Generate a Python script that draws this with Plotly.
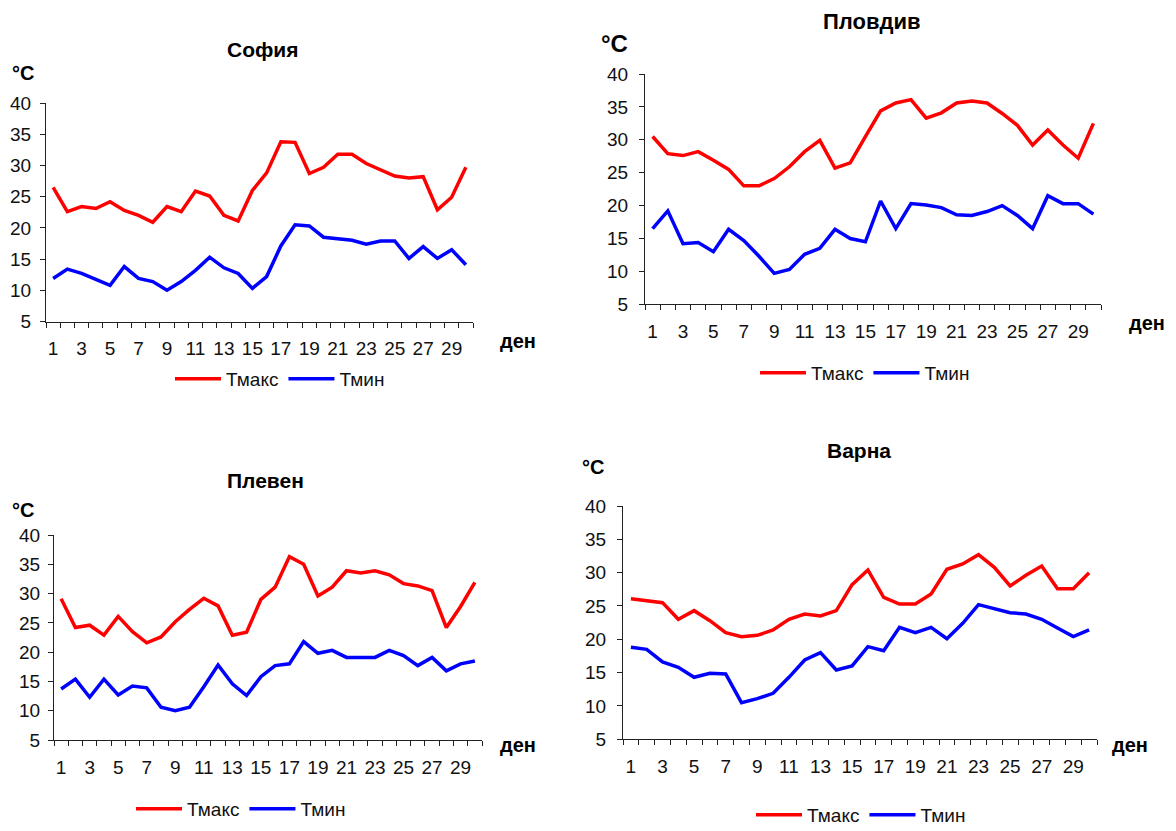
import plotly.graph_objects as go

days = list(range(1, 31))
x_ticks = list(range(1, 30, 2))
y_ticks = [5, 10, 15, 20, 25, 30, 35, 40]

sofia_max = [26.5, 22.6, 23.4, 23.1, 24.2, 22.8, 22.0, 20.9, 23.4, 22.6, 25.9, 25.1, 22.0, 21.1, 26.0,
             28.8, 33.8, 33.7, 28.7, 29.7, 31.8, 31.8, 30.3, 29.3, 28.3, 28.0, 28.2, 22.9, 24.9, 29.7]
sofia_min = [11.9, 13.4, 12.7, 11.7, 10.8, 13.8, 11.9, 11.4, 10.0, 11.4, 13.2, 15.3, 13.6, 12.7, 10.3,
             12.2, 17.1, 20.5, 20.3, 18.5, 18.2, 18.0, 17.4, 17.9, 17.9, 15.1, 17.0, 15.1, 16.5, 14.1]

plovdiv_max = [30.5, 27.9, 27.6, 28.2, 26.9, 25.5, 23.0, 23.0, 24.1, 25.9, 28.2, 29.9, 25.7, 26.5, 30.5,
               34.4, 35.6, 36.1, 33.3, 34.1, 35.6, 35.9, 35.6, 34.0, 32.2, 29.2, 31.5, 29.2, 27.2, 32.5]
plovdiv_min = [16.5, 19.2, 14.2, 14.4, 13.0, 16.4, 14.7, 12.3, 9.7, 10.3, 12.6, 13.5, 16.4, 15.0, 14.5,
               20.7, 16.5, 20.3, 20.1, 19.7, 18.6, 18.5, 19.1, 20.0, 18.5, 16.5, 21.5, 20.3, 20.3, 18.7]

pleven_max = [29.1, 24.2, 24.6, 22.9, 26.1, 23.5, 21.6, 22.6, 25.2, 27.3, 29.2, 27.9, 22.9, 23.4, 29.0,
              31.1, 36.3, 35.0, 29.6, 31.1, 33.9, 33.5, 33.9, 33.2, 31.7, 31.3, 30.5, 24.2, 27.8, 31.9]
pleven_min = [13.7, 15.4, 12.3, 15.4, 12.7, 14.2, 13.9, 10.6, 10.0, 10.6, 14.1, 17.8, 14.6, 12.6, 15.8,
              17.7, 18.0, 21.8, 19.8, 20.3, 19.1, 19.1, 19.1, 20.3, 19.4, 17.7, 19.1, 16.8, 18.0, 18.5]

varna_max = [26.1, 25.8, 25.5, 23.0, 24.3, 22.8, 21.0, 20.4, 20.6, 21.4, 23.0, 23.8, 23.5, 24.3, 28.2,
             30.4, 26.3, 25.3, 25.3, 26.8, 30.5, 31.3, 32.7, 30.8, 28.0, 29.6, 31.0, 27.6, 27.6, 30.0]
varna_min = [18.8, 18.5, 16.6, 15.8, 14.3, 14.9, 14.8, 10.5, 11.1, 11.9, 14.3, 16.9, 18.0, 15.4, 16.0,
             18.9, 18.3, 21.8, 21.0, 21.8, 20.1, 22.4, 25.2, 24.6, 24.0, 23.8, 23.0, 21.7, 20.4, 21.4]

W, H = 1176, 831
FONT = "Liberation Sans, Arial, sans-serif"


def px(x):
    return x / W


def py(y):
    return 1 - y / H


panels = [
    dict(name="София", tmax=sofia_max, tmin=sofia_min, box=(46, 473, 103, 321.5), ystand=5,
         title=(263, 49), tsize=21, degc=(10, 73), cs=20, den=(498, 341), leg=(177, 379)),
    dict(name="Пловдив", tmax=plovdiv_max, tmin=plovdiv_min, box=(645, 1101, 74, 304.3), ystand=7,
         title=(871, 21), tsize=22, degc=(599, 43), cs=24, den=(1127, 323), leg=(762, 373)),
    dict(name="Плевен", tmax=pleven_max, tmin=pleven_min, box=(54, 482, 535, 740), ystand=4,
         title=(265, 480), tsize=21, degc=(10, 510), cs=20, den=(498, 745), leg=(138, 809)),
    dict(name="Варна", tmax=varna_max, tmin=varna_min, box=(623, 1097, 506, 739.3), ystand=7,
         title=(859, 450), tsize=21, degc=(580, 467), cs=20, den=(1110, 745), leg=(758, 815)),
]

fig = go.Figure()
annotations = []
layout = dict(width=W, height=H, autosize=False,
              margin=dict(l=0, r=0, t=0, b=0, pad=0, autoexpand=False),
              paper_bgcolor="white", plot_bgcolor="white", showlegend=True,
              font=dict(family=FONT, color="black"))

for i, p in enumerate(panels):
    k = "" if i == 0 else str(i + 1)
    x0, x1, yt, yb = p["box"]
    legname = "legend" + k
    fig.add_trace(go.Scatter(x=days, y=p["tmax"], mode="lines", name="Тмакс",
                             line=dict(color="#FF0000", width=3.5), xaxis="x" + k, yaxis="y" + k,
                             legend=legname))
    fig.add_trace(go.Scatter(x=days, y=p["tmin"], mode="lines", name="Тмин",
                             line=dict(color="#0000FF", width=3.5), xaxis="x" + k, yaxis="y" + k,
                             legend=legname))
    layout["xaxis" + k] = dict(domain=[px(x0), px(x1)], anchor="y" + k, range=[0.5, 30.5],
                               tickvals=x_ticks, ticks="", showgrid=False, zeroline=False,
                               showline=True, linecolor="#222", linewidth=1,
                               tickfont=dict(size=19, family=FONT, color="#111"),
                               ticklabelstandoff=10,
                               minor=dict(tick0=0.5, dtick=1, ticks="outside", ticklen=5,
                                          tickcolor="#222", showgrid=False))
    layout["yaxis" + k] = dict(domain=[py(yb), py(yt)], anchor="x" + k, range=[5, 40],
                               tickvals=y_ticks, ticks="outside", ticklen=5, tickcolor="#222",
                               showgrid=False, zeroline=False, showline=True, linecolor="#222",
                               linewidth=1, ticklabelstandoff=p["ystand"],
                               tickfont=dict(size=19, family=FONT, color="#111"))
    layout[legname] = dict(orientation="h", x=px(p["leg"][0] - 7), y=py(p["leg"][1]),
                           xanchor="left", yanchor="middle", bgcolor="rgba(0,0,0,0)",
                           font=dict(size=19, family=FONT, color="#111"), itemwidth=46,
                           tracegroupgap=0)
    annotations.append(dict(text="<b>" + p["name"] + "</b>", x=px(p["title"][0]),
                            y=py(p["title"][1]), xref="paper", yref="paper",
                            xanchor="center", yanchor="middle", showarrow=False,
                            font=dict(size=p["tsize"], family=FONT, color="black")))
    annotations.append(dict(text="<b>°C</b>", x=px(p["degc"][0]), y=py(p["degc"][1]),
                            xref="paper", yref="paper", xanchor="left", yanchor="middle",
                            showarrow=False, font=dict(size=p["cs"], family=FONT, color="black")))
    annotations.append(dict(text="<b>ден</b>", x=px(p["den"][0]), y=py(p["den"][1]),
                            xref="paper", yref="paper", xanchor="left", yanchor="middle",
                            showarrow=False, font=dict(size=20, family=FONT, color="black")))

layout["annotations"] = annotations
fig.update_layout(**layout)
fig.write_html(
    "out.html",
    config={"displayModeBar": False, "responsive": False},
    post_script=(
        "document.documentElement.style.margin='0';"
        "document.body.style.margin='0';"
        "document.body.style.overflow='hidden';"
    ),
)
